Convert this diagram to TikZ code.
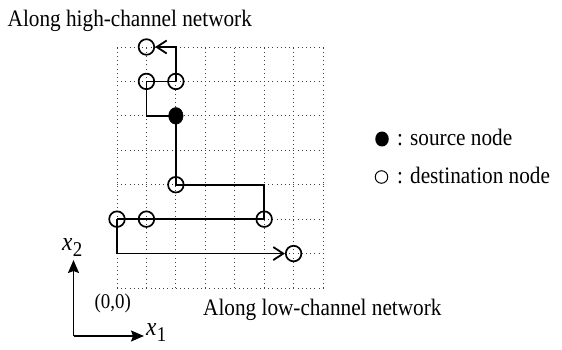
\documentclass[tikz,border=0pt]{standalone}
\usepackage{fontspec}
\setmainfont{Liberation Serif}[FakeStretch=0.9]
\usetikzlibrary{arrows.meta,shapes.geometric}

\tikzset{
  gridline/.style={line width=0.9pt, black!75, dash pattern=on 1pt off 3.2pt},
  route/.style={line width=1.8pt, line join=miter},
  dest/.style={circle, draw, line width=1.7pt, minimum size=15.6pt, inner sep=0pt},
  source/.style={ellipse, fill=black, draw, line width=0.6pt, minimum width=14.4pt, minimum height=16.6pt, inner sep=0pt},
  barb/.style={-{Straight Barb[length=10pt,width=13pt]}},
  axis/.style={line width=1.5pt, -{Stealth[length=13pt,width=11pt,inset=2pt]}},
  label/.style={inner sep=0pt, font=\fontsize{23.6}{26}\selectfont},
  small/.style={inner sep=0pt, font=\fontsize{21}{22}\selectfont},
  axislabel/.style={inner sep=0pt, font=\fontsize{26}{28}\selectfont},
}

\begin{document}
\begin{tikzpicture}[x=1pt, y=-1pt]
\useasboundingbox (0,0) rectangle (562,350);

% network grid, node positions and routes
\begin{scope}[shift={(117,288)}, x=29.43pt, y=34.43pt]
  \foreach \i in {0,...,7} {
    \draw[gridline] (\i,0) -- (\i,7);
    \draw[gridline] (0,\i) -- (7,\i);
  }
  \node[source] (src) at (2,5) {};
  \node[dest] (n17) at (1,7) {};
  \node[dest] (n16) at (1,6) {};
  \node[dest] (n26) at (2,6) {};
  \node[dest] (n23) at (2,3) {};
  \node[dest] (n02) at (0,2) {};
  \node[dest] (n12) at (1,2) {};
  \node[dest] (n52) at (5,2) {};
  \node[dest] (n61) at (6,1) {};
  \coordinate (o) at (0,0);

  % high-channel route
  \draw[route] (src.center) -| (n16.center) -- (n26.center);
  \draw[route, barb] (n26.center) |- (n17);
  % low-channel route
  \draw[route] (src.center) -- (n23.center) -| (n52.center) -- (n12.center) -- (n02.center);
  \draw[route, barb] (n02.center) |- (n61);
\end{scope}

% axes
\coordinate (ax) at (73.5,336);
\coordinate (ay) at (73.5,260);
\coordinate (axx) at (144,336);
\draw[axis] (ax) -- (ay);
\draw[axis] (ax) -- (axx);
\node[axislabel, anchor=base west] (x2) at (62,250) {\textit{x}};
\node[small, anchor=base west] (x2s) at (x2.base east) [yshift=-6.5pt] {2};
\node[axislabel, anchor=base west] (x1) at (146,335) {\textit{x}};
\node[small, anchor=base west] (x1s) at (x1.base east) [yshift=-6.5pt] {1};
\node[small, anchor=base west] (orig) at (94.5,308) {(0,0)};

% captions
\node[label, anchor=base west] (hi) at (7.5,27) {Along high-channel network};
\node[label, anchor=base west] (lo) at (203,315) {Along low-channel network};

% legend
\node[ellipse, fill=black, minimum width=13.5pt, minimum height=15pt, inner sep=0pt] (ksrc) at (382,139) {};
\node[label, anchor=base west] (tsrc) at (397,146) {: source node};
\node[circle, draw, line width=1pt, minimum size=12.5pt, inner sep=0pt] (kdst) at (381.5,177) {};
\node[label, anchor=base west] (tdst) at (397,183.5) {: destination node};
\end{tikzpicture}
\end{document}
